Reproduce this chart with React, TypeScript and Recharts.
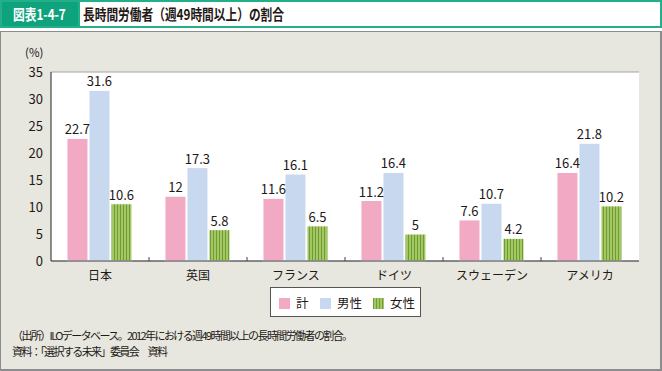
import React from 'react';
import { BarChart, Bar, XAxis, YAxis, CartesianGrid, LabelList } from 'recharts';

const categories = ['日本', '英国', 'フランス', 'ドイツ', 'スウェーデン', 'アメリカ'];
const totalValues = [22.7, 12, 11.6, 11.2, 7.6, 16.4];
const maleValues = [31.6, 17.3, 16.1, 16.4, 10.7, 21.8];
const femaleValues = [10.6, 5.8, 6.5, 5, 4.2, 10.2];
const yTicks = [0, 5, 10, 15, 20, 25, 30, 35];
const seriesNames = ['計', '男性', '女性'];

const data = categories.map((c, i) => ({
  name: c,
  total: totalValues[i],
  male: maleValues[i],
  female: femaleValues[i],
}));

const FONT = '"Noto Sans CJK JP", "Noto Sans", sans-serif';
const PINK = '#f2a9c4';
const BLUE = '#c7d8ef';
const GREEN = '#a2c763';

const XTick = (props: any) => {
  const { x, y, payload, index } = props;
  const half = payload && payload.offset ? payload.offset : 49;
  const axisY = y - 8;
  return (
    <g>
      {index > 0 && (
        <line x1={x - half} x2={x - half} y1={axisY - 4} y2={axisY} stroke="#444" strokeWidth={1} />
      )}
      <text x={x} y={y + 11} textAnchor="middle" fontSize={12} fill="#231815" fontFamily={FONT}>
        {payload.value}
      </text>
    </g>
  );
};

export default function App() {
  const legendColors = [PINK, BLUE, GREEN];
  return (
    <div style={{ position: 'fixed', left: 0, top: 0, width: 662, height: 371, fontFamily: FONT, background: '#fff', overflow: 'hidden' }}>
      {/* title bar */}
      <div style={{ position: 'absolute', left: 0, top: 0, width: 662, height: 28, boxSizing: 'border-box', border: '2px solid #22b08a', background: '#fff' }} />
      <div style={{ position: 'absolute', left: 0, top: 0, width: 80, height: 28, background: '#0fa37d', boxSizing: 'border-box', border: '2px solid #22b08a' }} />
      <div style={{ position: 'absolute', left: 13, top: 3, height: 22, lineHeight: '22px', color: '#fff', fontWeight: 700, fontSize: 15, whiteSpace: 'nowrap', transform: 'scaleX(0.78)', transformOrigin: 'left center' }}>
        図表1-4-7
      </div>
      <div style={{ position: 'absolute', left: 83, top: 3, height: 22, lineHeight: '22px', color: '#231815', fontWeight: 700, fontSize: 15, whiteSpace: 'nowrap', transform: 'scaleX(0.78)', transformOrigin: 'left center' }}>
        長時間労働者（週49時間以上）の割合
      </div>
      {/* panel */}
      <div style={{ position: 'absolute', left: 0, top: 31, width: 662, height: 340, boxSizing: 'border-box', borderTop: '1px solid #8c8c8c', borderLeft: '1px solid #8c8c8c', borderRight: '2px solid #8c8c8c', borderBottom: '2px solid #8c8c8c', background: '#e7e6df' }} />
      <div style={{ position: 'absolute', left: 25, top: 45, fontSize: 11.5, color: '#231815', lineHeight: '14px' }}>(%)</div>
      <div style={{ position: 'absolute', left: 0, top: 0 }}>
        <BarChart
          width={662}
          height={300}
          data={data}
          margin={{ top: 72, right: 23, left: 11, bottom: 9 }}
          barCategoryGap="16.3%"
          barGap={1}
        >
          <defs>
            <pattern id="stripes" patternUnits="userSpaceOnUse" width={3} height={10}>
              <rect x={0} y={0} width={3} height={10} fill={GREEN} />
              <rect x={0} y={0} width={1} height={10} fill="#6f9c35" />
            </pattern>
          </defs>
          <CartesianGrid vertical={false} stroke="#a3a3a3" strokeWidth={1.2} fill="#ffffff" />
          <XAxis
            dataKey="name"
            height={30}
            tickLine={false}
            tickSize={6}
            tickMargin={2}
            axisLine={{ stroke: '#444', strokeWidth: 1.2 }}
            tick={<XTick />}
            interval={0}
          />
          <YAxis
            yAxisId="left"
            width={40}
            domain={[0, 35]}
            ticks={yTicks}
            tickLine={false}
            axisLine={{ stroke: '#444', strokeWidth: 1.2 }}
            tick={{ fontSize: 13, fill: '#231815', fontFamily: FONT }}
            interval={0}
          />
          <YAxis
            yAxisId="right"
            orientation="right"
            width={0}
            domain={[0, 35]}
            tick={false}
            tickLine={false}
            axisLine={{ stroke: '#8a8a8a', strokeWidth: 1 }}
          />
          <Bar yAxisId="left" dataKey="total" name={seriesNames[0]} fill={PINK} stroke="#fff" strokeWidth={1} isAnimationActive={false}>
            <LabelList dataKey="total" position="top" offset={4} fontSize={13} fill="#231815" fontFamily={FONT} />
          </Bar>
          <Bar yAxisId="left" dataKey="male" name={seriesNames[1]} fill={BLUE} stroke="#fff" strokeWidth={1} isAnimationActive={false}>
            <LabelList dataKey="male" position="top" offset={4} fontSize={13} fill="#231815" fontFamily={FONT} />
          </Bar>
          <Bar yAxisId="left" dataKey="female" name={seriesNames[2]} fill="url(#stripes)" stroke="#fff" strokeWidth={1} isAnimationActive={false}>
            <LabelList dataKey="female" position="top" offset={4} fontSize={13} fill="#231815" fontFamily={FONT} />
          </Bar>
        </BarChart>
      </div>
      {/* legend */}
      <div style={{ position: 'absolute', left: 270, top: 287, width: 151, height: 30, boxSizing: 'border-box', border: '1px solid #555', background: '#fff' }}>
        {seriesNames.map((n, i) => (
          <div key={n} style={{ position: 'absolute', left: [8, 49, 102][i], top: 9, height: 12, display: 'flex', alignItems: 'center', whiteSpace: 'nowrap' }}>
            <span style={{ display: 'inline-block', width: 11, height: 11, background: i === 2 ? `repeating-linear-gradient(90deg, #6f9c35 0 1px, ${GREEN} 1px 3px)` : legendColors[i] }} />
            <span style={{ marginLeft: 6, fontSize: 12.5, color: '#231815', lineHeight: '12px' }}>{n}</span>
          </div>
        ))}
      </div>
      {/* notes */}
      <div style={{ position: 'absolute', left: 12, top: 327, fontSize: 11, lineHeight: '16px', color: '#231815', whiteSpace: 'nowrap', letterSpacing: -1.6 }}>
        （出所）ILOデータベース。2012年における週49時間以上の長時間労働者の割合。
      </div>
      <div style={{ position: 'absolute', left: 12, top: 343, fontSize: 11, lineHeight: '16px', color: '#231815', whiteSpace: 'nowrap', letterSpacing: -1.6 }}>
        資料：「選択する未来」委員会　資料
      </div>
    </div>
  );
}
